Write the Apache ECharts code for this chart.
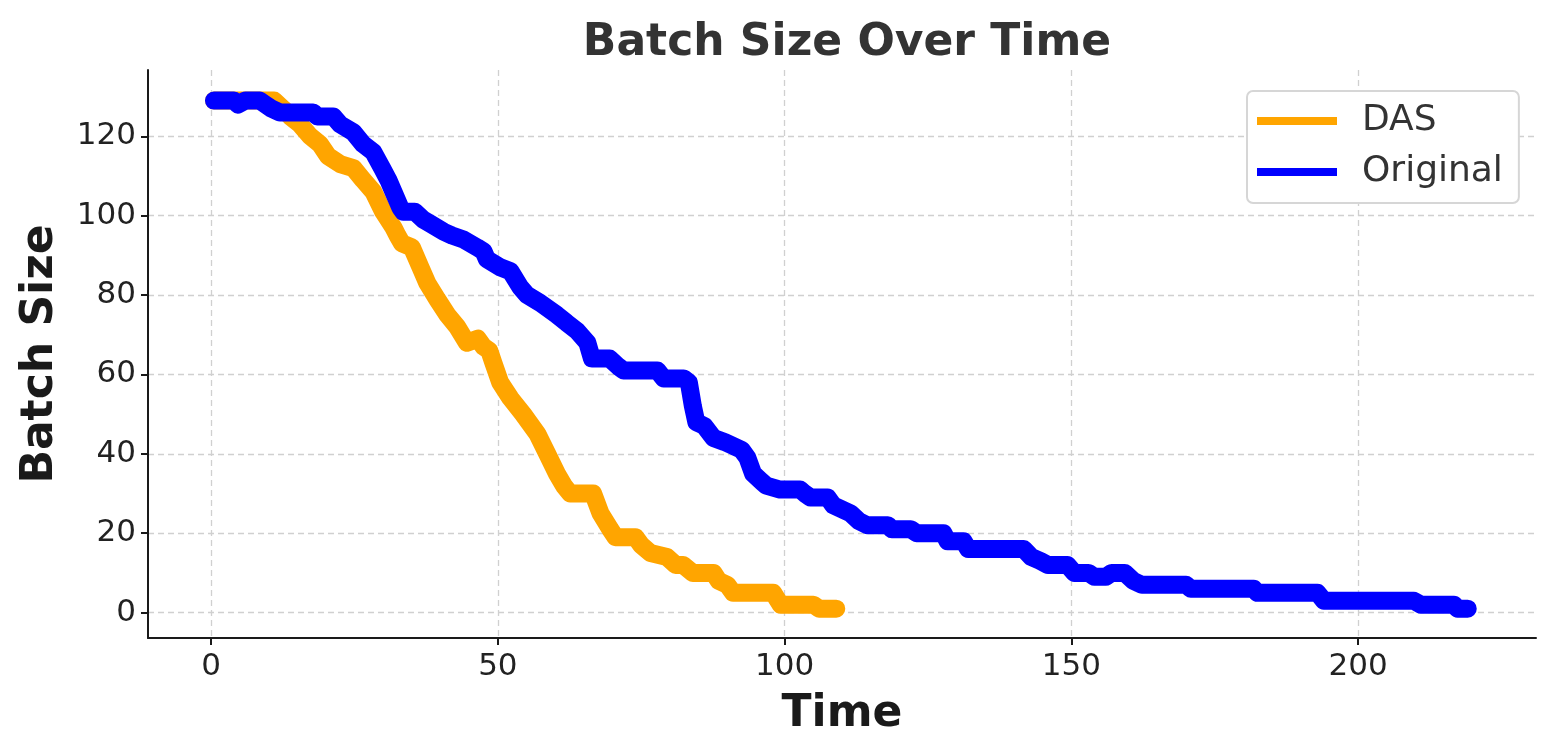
<!DOCTYPE html>
<html>
<head>
<meta charset="utf-8">
<script src="https://cdn.jsdelivr.net/npm/echarts@6/dist/echarts.min.js"></script>
<style>
html,body{margin:0;padding:0;background:#fff;}
#chart{width:1556px;height:756px;}
</style>
</head>
<body>
<div id="chart"></div>
<script>
// ---- data ----
const titleText = 'Batch Size Over Time';
const xName = 'Time';
const yName = 'Batch Size';
const seriesNames = ['DAS', 'Original'];
const xTicks = [0, 50, 100, 150, 200];
const yTicks = [0, 20, 40, 60, 80, 100, 120];

const dasData = [
  [0.5,129],[11,129],[12.5,127],[13.8,125],[15.5,123],[17.3,120],[19,118],[20.4,115],
  [22.5,113],[24.8,112],[26.5,109],[28.3,106],[30,101],[31.8,97],[32.5,95],[33.3,93],
  [35,92],[36.5,87],[37.7,83],[39.4,79],[41.2,75],[42.9,72],[44.6,68],[46.5,69],
  [47.5,67],[48.5,66],[49.2,63],[50.4,58],[52.2,54],[54.4,50],[56.9,45],[58.6,40],
  [60.3,35],[61.5,32],[62.6,30],[66.6,30],[67.9,25],[69.6,21],[70.5,19],[74,19],
  [75,17],[76.6,15],[79.5,14],[81,12],[82.3,12],[84,10],[87.6,10],[88.5,8],[90,7],
  [91,5],[98,5],[99.3,2],[105,2],[106,1],[109,1]
];

const originalData = [
  [0.5,129],[4,129],[4.7,128],[6,129],[8.5,129],[9.5,128],[10.5,127],[12,126],[17.8,126],
  [18.5,125],[21.3,125],[22.5,123],[24.8,121],[26.5,118],[28.3,116],[29.8,112],[30.9,109],
  [31.8,106],[33,102],[33.5,101],[35.5,101],[37,99],[38.2,98],[40.5,96],[42,95],[44,94],
  [46.4,92],[47.5,91],[48.1,89],[50.4,87],[52.2,86],[53.9,82],[55.1,80],[57.4,78],
  [60.3,75],[62,73],[63.8,71],[65.6,68],[66.4,64],[69.5,64],[71,62],[71.9,61],[77.8,61],
  [78.9,59],[82.4,59],[83.3,58],[84,52],[84.6,48],[86,47],[87.6,44],[89.5,43],[91,42],
  [92.5,41],[93.5,39],[94.5,35],[96,33],[96.8,32],[99.2,31],[102.7,31],[103.5,30],
  [104.5,29],[107.5,29],[108.5,27],[110,26],[111.5,25],[113,23],[114.4,22],[118,22],
  [118.7,21],[122,21],[123,20],[127.7,20],[128.4,18],[131.2,18],[132,16],[141.7,16],
  [143,14],[144.6,13],[145.9,12],[149.3,12],[150.5,10],[153,10],[154,9],[156,9],[157,10],
  [159.3,10],[160.8,8],[162.3,7],[170,7],[170.8,6],[181.8,6],[182.4,5],[192.9,5],[194,3],
  [209.7,3],[210.9,2],[216.7,2],[217.3,1],[219.1,1]
];

const colors = ['#FFA500', '#0000FF'];

const FONT = 'DejaVu Sans';
const chart = echarts.init(document.getElementById('chart'), null, {renderer: 'canvas'});

const gridLine = {show: true, lineStyle: {color: '#d0d0d0', width: 1.3, type: [6, 4]}};

chart.setOption({
  animation: false,
  backgroundColor: '#ffffff',
  title: {
    text: titleText,
    left: 842, textAlign: 'center',
    top: 14,
    textStyle: {fontFamily: FONT, fontSize: 44, fontWeight: 'bold', color: '#333333', lineHeight: 50}
  },
  legend: {
    orient: 'vertical',
    left: 1247, top: 91,
    padding: [10, 16, 11, 10],
    backgroundColor: '#ffffff',
    borderColor: '#d6d6d6',
    borderWidth: 2,
    borderRadius: 6,
    itemWidth: 80,
    itemHeight: 8,
    itemGap: 11,
    icon: 'rect',
    textStyle: {fontFamily: FONT, fontSize: 36, color: '#333333', lineHeight: 40, padding: [0,0,0,20]},
    data: seriesNames
  },
  grid: {left: 148, right: 20, top: 70, bottom: 118, containLabel: false},
  xAxis: {
    type: 'value',
    min: -11, max: 231,
    name: xName,
    nameLocation: 'middle',
    nameGap: 52,
    nameTextStyle: {fontFamily: FONT, fontSize: 44, fontWeight: 'bold', color: '#1a1a1a', lineHeight: 50},
    axisLine: {show: true, onZero: false, lineStyle: {color: '#1a1a1a', width: 2}},
    axisTick: {show: true, length: 7, lineStyle: {color: '#1a1a1a', width: 2}, customValues: xTicks},
    axisLabel: {fontFamily: FONT, fontSize: 31, color: '#222222', margin: 13, customValues: xTicks},
    splitLine: gridLine
  },
  yAxis: {
    type: 'value',
    min: -6.4, max: 136.7,
    name: yName,
    nameLocation: 'middle',
    nameGap: 82,
    nameRotate: 90,
    nameTextStyle: {fontFamily: FONT, fontSize: 44, fontWeight: 'bold', color: '#1a1a1a', lineHeight: 50},
    axisLine: {show: true, onZero: false, lineStyle: {color: '#1a1a1a', width: 2}},
    axisTick: {show: true, length: 7, lineStyle: {color: '#1a1a1a', width: 2}, customValues: yTicks},
    axisLabel: {fontFamily: FONT, fontSize: 31, color: '#222222', margin: 12, customValues: yTicks},
    splitLine: gridLine
  },
  series: [
    {
      name: seriesNames[0], type: 'line', data: dasData,
      color: colors[0], showSymbol: false, symbol: 'none',
      lineStyle: {width: 18, color: colors[0], cap: 'round', join: 'round'},
      z: 2
    },
    {
      name: seriesNames[1], type: 'line', data: originalData,
      color: colors[1], showSymbol: false, symbol: 'none',
      lineStyle: {width: 18, color: colors[1], cap: 'round', join: 'round'},
      z: 3
    }
  ]
});
</script>
</body>
</html>
